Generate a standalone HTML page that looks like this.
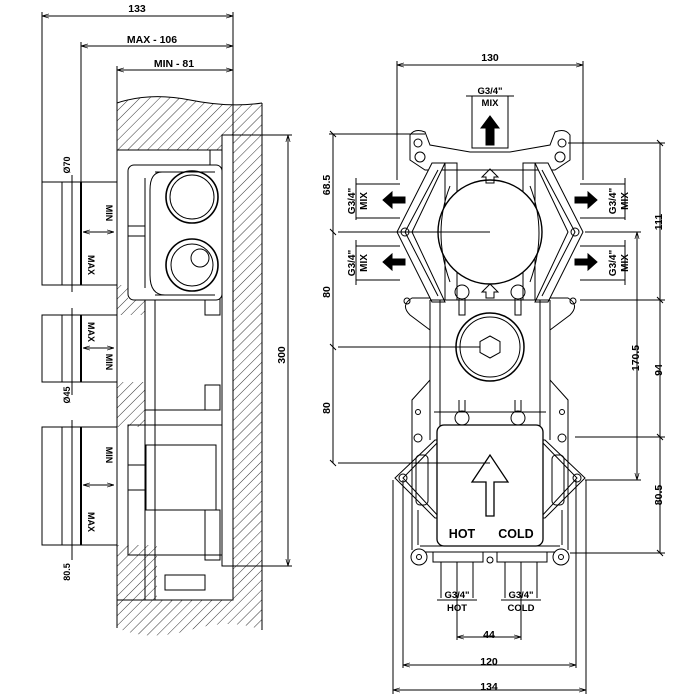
<!DOCTYPE html>
<html><head><meta charset="utf-8"><style>
html,body{margin:0;padding:0;background:#fff;width:700px;height:700px;overflow:hidden}
svg{display:block}
text{font-family:"Liberation Sans",sans-serif;font-weight:bold;fill:#000}
</style></head><body>
<svg width="700" height="700" viewBox="0 0 700 700" xmlns="http://www.w3.org/2000/svg">
<defs>
<pattern id="h" width="7" height="7" patternUnits="userSpaceOnUse" patternTransform="rotate(45)">
<line x1="0" y1="0" x2="0" y2="7" stroke="#000" stroke-width="0.8"/></pattern>
<marker id="a" viewBox="0 0 10 10" refX="10" refY="5" markerWidth="7" markerHeight="7" orient="auto-start-reverse"><path d="M0,2 L10,5 L0,8" fill="none" stroke="#000"/></marker>
</defs>
<g fill="none" stroke="#000" stroke-width="1">
<!-- LEFT VIEW: wall -->
<path d="M117,103 Q150,92 190,100 T262,103 L262,630 Q230,618 190,630 T117,628 Z" fill="url(#h)" stroke="none"/>
<path d="M117,103 Q150,92 190,100 T262,103 M262,103 L262,630 M117,103 L117,628" />
<rect x="117" y="150" width="116" height="450" fill="#fff" stroke="none"/>
<rect x="117" y="150" width="116" height="450"/>
<path d="M117,285 L128,285 L128,300 L145,300 L145,315 L117,315 Z" fill="url(#h)" stroke="none"/>
<rect x="117" y="382" width="28" height="45" fill="url(#h)" stroke="none"/>
<rect x="117" y="545" width="40" height="55" fill="url(#h)" stroke="none"/>
<rect x="222" y="135" width="11" height="431" fill="#fff"/>
<rect x="210" y="150" width="12" height="20"/>
<rect x="205" y="290" width="15" height="25"/>
<rect x="205" y="385" width="15" height="25"/>
<rect x="205" y="510" width="15" height="50"/>
<rect x="128" y="165" width="94" height="135" rx="6" fill="#fff"/>
<path d="M145,178 L145,288 M155,172 L215,172 M155,295 L215,295"/>
<path d="M162,172 Q150,172 150,190 L150,275 Q150,295 165,295"/>
<circle cx="192" cy="197" r="26" stroke-width="1.6"/><circle cx="192" cy="197" r="22"/>
<circle cx="192" cy="265" r="26" stroke-width="1.6"/><circle cx="192" cy="265" r="21"/><circle cx="200" cy="258" r="9"/>
<rect x="128" y="226" width="17" height="10"/>
<path d="M145,300 L145,600 M155,300 L155,600 M145,410 L210,410"/>
<rect x="128" y="425" width="94" height="130"/>
<rect x="146" y="445" width="70" height="65"/>
<rect x="128" y="465" width="18" height="25"/>
<path d="M165,575 L205,575 L205,590 L165,590 Z"/>
<rect x="42" y="182" width="20" height="103" fill="#fff"/><rect x="62" y="182" width="19" height="103"/><rect x="81" y="182" width="36" height="103"/>
<path d="M81,182 L81,285" stroke-width="2"/>
<rect x="42" y="315" width="20" height="67"/><rect x="62" y="315" width="19" height="67"/><rect x="81" y="315" width="36" height="67"/>
<path d="M81,315 L81,382" stroke-width="2"/>
<rect x="42" y="427" width="20" height="118"/><rect x="62" y="427" width="19" height="118"/><rect x="81" y="427" width="36" height="118"/>
<path d="M81,427 L81,545" stroke-width="2"/>
<path d="M83,232 L114,232" marker-start="url(#a)" marker-end="url(#a)"/>
<path d="M83,348 L114,348" marker-start="url(#a)" marker-end="url(#a)"/>
<path d="M83,485 L114,485" marker-start="url(#a)" marker-end="url(#a)"/>
<path d="M72,175 L72,292 M72,308 L72,395 M72,420 L72,560"/>
<path d="M42,16 L233,16" marker-start="url(#a)" marker-end="url(#a)"/>
<path d="M81,46 L233,46" marker-start="url(#a)" marker-end="url(#a)"/>
<path d="M117,70 L233,70" marker-start="url(#a)" marker-end="url(#a)"/>
<path d="M42,12 L42,182 M81,42 L81,182 M117,66 L117,103 M233,12 L233,135"/>
<path d="M233,135 L292,135 M233,566 L292,566"/>
<path d="M288,135 L288,566" marker-start="url(#a)" marker-end="url(#a)"/>

<!-- RIGHT VIEW -->
<path d="M397,65 L583,65" marker-start="url(#a)" marker-end="url(#a)"/>
<path d="M397,61 L397,180 M583,61 L583,180"/>
<rect x="472" y="96" width="36" height="52"/>
<path d="M466,96 L514,96"/>
<path d="M486,145 L486,128 L481,128 L490,116 L499,128 L494,128 L494,145 Z" fill="#000"/>
<path d="M410,135 Q415,128 425,132 L430,145 L470,152 L510,152 L550,145 L555,132 Q565,128 570,135 L570,160 L555,170 L425,170 L410,160 Z" fill="#fff"/>
<circle cx="418" cy="143" r="4"/><circle cx="562" cy="143" r="4"/>
<circle cx="420" cy="157" r="5"/><circle cx="560" cy="157" r="5"/>
<path d="M432,163 L397,232 L432,302 L445,302 L412,232 L445,163 Z" fill="#fff"/>
<path d="M548,163 L583,232 L548,302 L535,302 L568,232 L535,163 Z" fill="#fff"/>
<path d="M438,170 L405,232 L438,296 M542,170 L575,232 L542,296"/>
<circle cx="405" cy="232" r="4"/><circle cx="575" cy="232" r="4"/>
<path d="M430,300 L430,440 M440,300 L440,440 M550,300 L550,440 M540,300 L540,440"/>
<rect x="445" y="163" width="12" height="137"/><rect x="523" y="163" width="12" height="137"/>
<path d="M430,300 L550,300"/>
<circle cx="490" cy="232" r="52" fill="#fff" stroke-width="1.4"/>
<path d="M450,186 Q432,232 450,282 M530,186 Q548,232 530,282"/>
<path d="M338,232 L490,232"/>
<path d="M486,183 L486,177 L482,177 L490,169 L498,177 L494,177 L494,183 Z"/>
<path d="M486,298 L486,292 L482,292 L490,284 L498,292 L494,292 L494,298 Z"/>
<circle cx="462" cy="292" r="7"/><circle cx="518" cy="292" r="7"/>
<path d="M459,298 L459,315 L465,315 L465,298 M515,298 L515,315 L521,315 L521,298"/>
<path d="M430,298 L412,298 Q400,305 410,315 L430,330 M550,298 L568,298 Q580,305 570,315 L550,330"/>
<circle cx="407" cy="301" r="3"/><circle cx="573" cy="301" r="3"/>
<circle cx="490" cy="347" r="34" stroke-width="1.5"/><circle cx="490" cy="347" r="30"/>
<path d="M490,336 L500,341.5 L500,352.5 L490,358 L480,352.5 L480,341.5 Z"/>
<path d="M338,347 L480,347"/>
<path d="M430,380 L412,400 L412,430 M550,380 L568,400 L568,430"/>
<circle cx="418" cy="412" r="2.5"/><circle cx="562" cy="412" r="2.5"/>
<path d="M434,412 L546,412"/>
<path d="M459,400 L459,412 M465,400 L465,412 M515,400 L515,412 M521,400 L521,412"/>
<circle cx="462" cy="418" r="7"/><circle cx="518" cy="418" r="7"/>
<circle cx="418" cy="438" r="4"/><circle cx="562" cy="438" r="4"/>
<path d="M435,440 L395,478 L435,518 L440,518 L403,478 L440,440 Z" fill="#fff"/>
<path d="M545,440 L585,478 L545,518 L540,518 L577,478 L540,440 Z" fill="#fff"/>
<rect x="416" y="455" width="12" height="50" rx="4"/><rect x="552" y="455" width="12" height="50" rx="4"/>
<circle cx="403" cy="478" r="4"/><circle cx="577" cy="478" r="4"/>
<path d="M412,430 L412,550 M568,430 L568,550 M418,510 L418,545 M562,510 L562,545"/>
<rect x="437" y="425" width="106" height="121" rx="7" fill="#fff" stroke-width="1.3"/>
<path d="M486,516 L486,482 L472,482 L490,455 L508,482 L494,482 L494,516 Z" fill="#fff" stroke-width="1.3"/>
<path d="M338,463 L490,463"/>
<path d="M420,546 L560,546 M420,552 L560,552"/>
<circle cx="419" cy="557" r="8" fill="#fff"/><circle cx="419" cy="557" r="2.5"/>
<circle cx="561" cy="557" r="8" fill="#fff"/><circle cx="561" cy="557" r="2.5"/>
<path d="M433,552 L433,562 L483,562 L483,552 M497,552 L497,562 L547,562 L547,552"/>
<circle cx="490" cy="560" r="3"/>
<path d="M405,197 L392,197 L392,192 L383,200 L392,208 L392,203 L405,203 Z" fill="#000"/>
<path d="M405,259 L392,259 L392,254 L383,262 L392,270 L392,265 L405,265 Z" fill="#000"/>
<path d="M575,197 L588,197 L588,192 L597,200 L588,208 L588,203 L575,203 Z" fill="#000"/>
<path d="M575,259 L588,259 L588,254 L597,262 L588,270 L588,265 L575,265 Z" fill="#000"/>
<path d="M356,178 L356,220 M356,240 L356,285 M625,178 L625,220 M625,240 L625,285"/>
<path d="M356,184 L400,184 M356,218 L400,218 M356,246 L400,246 M356,280 L400,280"/>
<path d="M580,184 L625,184 M580,218 L625,218 M580,246 L625,246 M580,280 L625,280"/>
<path d="M333,134 L333,463"/>
<path d="M329,134 L425,134"/>
<path d="M330,131 L336,137 M330,229 L336,235 M330,344 L336,350 M330,460 L336,466"/>
<path d="M660,143 L660,553"/>
<path d="M568,143 L665,143 M580,300 L665,300 M575,437 L665,437 M570,553 L665,553"/>
<path d="M657,140 L663,146 M657,297 L663,303 M657,434 L663,440 M657,550 L663,556"/>
<path d="M637,232 L637,480" marker-start="url(#a)" marker-end="url(#a)"/>
<path d="M585,232 L641,232 M585,480 L641,480"/>
<path d="M441,562 L441,598 M457,562 L457,640 M473,562 L473,598 M505,562 L505,598 M521,562 L521,640 M537,562 L537,598"/>
<path d="M437,600 L477,600 M501,600 L541,600"/>
<path d="M457,637 L521,637" marker-start="url(#a)" marker-end="url(#a)"/>
<path d="M403,480 L403,668 M576,480 L576,668 M393,480 L393,694 M586,480 L586,694"/>
<path d="M403,665 L576,665" marker-start="url(#a)" marker-end="url(#a)"/>
<path d="M393,690 L586,690" marker-start="url(#a)" marker-end="url(#a)"/>
</g>
<g font-size="10.5">
<text x="137" y="12" text-anchor="middle">133</text>
<text x="152" y="43" text-anchor="middle">MAX - 106</text>
<text x="174" y="67" text-anchor="middle">MIN - 81</text>
<text transform="translate(285,355) rotate(-90)" text-anchor="middle">300</text>
<text transform="translate(70,165) rotate(-90)" text-anchor="middle" font-size="9">Ø70</text>
<text transform="translate(70,395) rotate(-90)" text-anchor="middle" font-size="9">Ø45</text>
<text transform="translate(70,572) rotate(-90)" text-anchor="middle" font-size="9">80.5</text>
<text transform="translate(106,213) rotate(90)" text-anchor="middle" font-size="9">MIN</text>
<text transform="translate(88,265) rotate(90)" text-anchor="middle" font-size="9">MAX</text>
<text transform="translate(88,332) rotate(90)" text-anchor="middle" font-size="9">MAX</text>
<text transform="translate(106,362) rotate(90)" text-anchor="middle" font-size="9">MIN</text>
<text transform="translate(106,455) rotate(90)" text-anchor="middle" font-size="9">MIN</text>
<text transform="translate(88,522) rotate(90)" text-anchor="middle" font-size="9">MAX</text>
<text x="490" y="61" text-anchor="middle">130</text>
<text x="490" y="94" text-anchor="middle" font-size="9.5">G3/4"</text>
<text x="490" y="106" text-anchor="middle" font-size="9.5">MIX</text>
<text transform="translate(330,185) rotate(-90)" text-anchor="middle">68.5</text>
<text transform="translate(330,292) rotate(-90)" text-anchor="middle">80</text>
<text transform="translate(330,408) rotate(-90)" text-anchor="middle">80</text>
<text transform="translate(355,201) rotate(-90)" text-anchor="middle" font-size="10">G3/4"</text>
<text transform="translate(367,201) rotate(-90)" text-anchor="middle" font-size="10">MIX</text>
<text transform="translate(355,263) rotate(-90)" text-anchor="middle" font-size="10">G3/4"</text>
<text transform="translate(367,263) rotate(-90)" text-anchor="middle" font-size="10">MIX</text>
<text transform="translate(616,201) rotate(-90)" text-anchor="middle" font-size="10">G3/4"</text>
<text transform="translate(628,201) rotate(-90)" text-anchor="middle" font-size="10">MIX</text>
<text transform="translate(616,263) rotate(-90)" text-anchor="middle" font-size="10">G3/4"</text>
<text transform="translate(628,263) rotate(-90)" text-anchor="middle" font-size="10">MIX</text>
<text transform="translate(662,222) rotate(-90)" text-anchor="middle">111</text>
<text transform="translate(662,370) rotate(-90)" text-anchor="middle">94</text>
<text transform="translate(662,495) rotate(-90)" text-anchor="middle">80.5</text>
<text transform="translate(639,358) rotate(-90)" text-anchor="middle">170.5</text>
<text x="462" y="538" text-anchor="middle" font-size="12.5">HOT</text>
<text x="516" y="538" text-anchor="middle" font-size="12.5">COLD</text>
<text x="457" y="598" text-anchor="middle" font-size="9.5">G3/4"</text>
<text x="457" y="611" text-anchor="middle" font-size="9.5">HOT</text>
<text x="521" y="598" text-anchor="middle" font-size="9.5">G3/4"</text>
<text x="521" y="611" text-anchor="middle" font-size="9.5">COLD</text>
<text x="489" y="638" text-anchor="middle">44</text>
<text x="489" y="665" text-anchor="middle">120</text>
<text x="489" y="690" text-anchor="middle">134</text>
</g>
</svg>
</body></html>
